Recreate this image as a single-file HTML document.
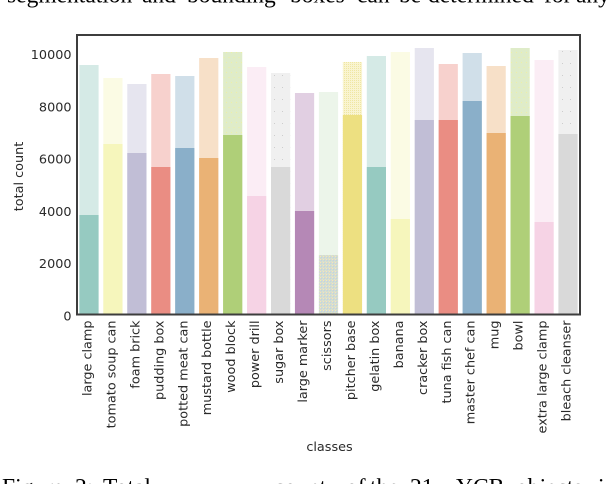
<!DOCTYPE html>
<html>
<head>
<meta charset="utf-8">
<style>
  html, body { margin: 0; padding: 0; background: #ffffff; }
  body { width: 608px; height: 484px; overflow: hidden; }
  svg { display: block; }
  .tick { font-family: "DejaVu Sans", "Liberation Sans", sans-serif; font-size: 12.8px; fill: #2a2a2a; }
  .cap { font-family: "Liberation Serif", serif; font-size: 23.5px; fill: #000; }
</style>
</head>
<body>
<svg width="608" height="484" viewBox="0 0 608 484" xmlns="http://www.w3.org/2000/svg">
  <defs>
    <pattern id="dotG" patternUnits="userSpaceOnUse" width="5" height="10">
      <rect width="5" height="10" fill="#dfecc9"/>
      <rect x="1" y="2" width="1" height="1" fill="#eff0a4"/>
      <rect x="3.5" y="7" width="1" height="1" fill="#eff0a4"/>
    </pattern>
    <pattern id="dotS" patternUnits="userSpaceOnUse" width="8" height="12">
      <rect width="8" height="12" fill="#f0f0f0"/>
      <rect x="2" y="3" width="1" height="1" fill="#cdcdcd"/>
    </pattern>
    <pattern id="dotP" patternUnits="userSpaceOnUse" width="2" height="2">
      <rect width="2" height="2" fill="#f9f4d0"/>
      <rect x="0" y="0" width="1" height="1" fill="#efe6a2"/>
    </pattern>
    <pattern id="dotX" patternUnits="userSpaceOnUse" width="3" height="3">
      <rect width="3" height="3" fill="#d6d6d6"/>
      <rect x="1" y="0" width="1" height="1" fill="#d8eec0"/>
      <rect x="0" y="2" width="1" height="1" fill="#b8e0d8"/>
      <rect x="2" y="1" width="1" height="1" fill="#f0f0b0"/>
    </pattern>
  </defs>

  <!-- top caption fragment -->
  <text class="cap" y="2.5">
    <tspan x="7">segmentation</tspan><tspan x="142">and</tspan><tspan x="187">bounding</tspan><tspan x="290">boxes</tspan><tspan x="357">can</tspan><tspan x="399">be</tspan><tspan x="428">determined</tspan><tspan x="544">for</tspan><tspan x="576">any</tspan>
  </text>

  <!-- bars: light (total) -->
  <g>
    <rect x="79.38" y="65" width="19.2" height="249" fill="#d5eae6"/>
    <rect x="103.33" y="78" width="19.2" height="236" fill="#fbfbe4"/>
    <rect x="127.28" y="84" width="19.2" height="230" fill="#e6e5ef"/>
    <rect x="151.24" y="74" width="19.2" height="240" fill="#f7d1cd"/>
    <rect x="175.19" y="76" width="19.2" height="238" fill="#d0dfe9"/>
    <rect x="199.14" y="58" width="19.2" height="256" fill="#f7e0c8"/>
    <rect x="223.09" y="52" width="19.2" height="262" fill="url(#dotG)"/>
    <rect x="247.04" y="67" width="19.2" height="247" fill="#fbedf5"/>
    <rect x="270.99" y="73" width="19.2" height="241" fill="url(#dotS)"/>
    <rect x="294.95" y="93" width="19.2" height="221" fill="#e1cfe2"/>
    <rect x="318.90" y="92" width="19.2" height="222" fill="#ecf5ea"/>
    <rect x="342.85" y="62" width="19.2" height="252" fill="url(#dotP)"/>
    <rect x="366.80" y="56" width="19.2" height="258" fill="#d5eae6"/>
    <rect x="390.75" y="52" width="19.2" height="262" fill="#fbfbe4"/>
    <rect x="414.71" y="48" width="19.2" height="266" fill="#e6e5ef"/>
    <rect x="438.66" y="64" width="19.2" height="250" fill="#f7d1cd"/>
    <rect x="462.61" y="53" width="19.2" height="261" fill="#d0dfe9"/>
    <rect x="486.56" y="66" width="19.2" height="248" fill="#f7e0c8"/>
    <rect x="510.51" y="48" width="19.2" height="266" fill="url(#dotG)"/>
    <rect x="534.47" y="60" width="19.2" height="254" fill="#fbedf5"/>
    <rect x="558.42" y="50" width="19.2" height="264" fill="url(#dotS)"/>
  </g>
  <!-- bars: dark -->
  <g>
    <rect x="79.38" y="215" width="19.2" height="99" fill="#96cac1"/>
    <rect x="103.33" y="144" width="19.2" height="170" fill="#f6f6bc"/>
    <rect x="127.28" y="153" width="19.2" height="161" fill="#c1bed6"/>
    <rect x="151.24" y="167" width="19.2" height="147" fill="#ea8d83"/>
    <rect x="175.19" y="148" width="19.2" height="166" fill="#8aafc9"/>
    <rect x="199.14" y="158" width="19.2" height="156" fill="#eab275"/>
    <rect x="223.09" y="135" width="19.2" height="179" fill="#afcf78"/>
    <rect x="247.04" y="196" width="19.2" height="118" fill="#f6d3e5"/>
    <rect x="270.99" y="167" width="19.2" height="147" fill="#d9d9d9"/>
    <rect x="294.95" y="211" width="19.2" height="103" fill="#b588b6"/>
    <rect x="318.90" y="255" width="19.2" height="59" fill="url(#dotX)"/>
    <rect x="342.85" y="115" width="19.2" height="199" fill="#ede081"/>
    <rect x="366.80" y="167" width="19.2" height="147" fill="#96cac1"/>
    <rect x="390.75" y="219" width="19.2" height="95" fill="#f6f6bc"/>
    <rect x="414.71" y="120" width="19.2" height="194" fill="#c1bed6"/>
    <rect x="438.66" y="120" width="19.2" height="194" fill="#ea8d83"/>
    <rect x="462.61" y="101" width="19.2" height="213" fill="#8aafc9"/>
    <rect x="486.56" y="133" width="19.2" height="181" fill="#eab275"/>
    <rect x="510.51" y="116" width="19.2" height="198" fill="#afcf78"/>
    <rect x="534.47" y="222" width="19.2" height="92" fill="#f6d3e5"/>
    <rect x="558.42" y="134" width="19.2" height="180" fill="#d9d9d9"/>
  </g>

  <!-- axes frame -->
  <rect x="77" y="35" width="503" height="279.5" fill="none" stroke="#3d3d3d" stroke-width="2"/>

  <!-- y tick labels -->
  <g class="tick" text-anchor="end">
    <text x="71.5" y="320.3">0</text>
    <text x="71.5" y="268.1">2000</text>
    <text x="71.5" y="215.8">4000</text>
    <text x="71.5" y="163.6">6000</text>
    <text x="71.5" y="111.4">8000</text>
    <text x="71.5" y="59.1">10000</text>
  </g>

  <!-- y axis label -->
  <text class="tick" text-anchor="middle" transform="translate(23,176.5) rotate(-90)">total count</text>

  <!-- x tick labels -->
  <g class="tick" text-anchor="end">
    <text transform="translate(91.5,320.5) rotate(-90)">large clamp</text>
    <text transform="translate(115.4,320.5) rotate(-90)">tomato soup can</text>
    <text transform="translate(139.4,320.5) rotate(-90)">foam brick</text>
    <text transform="translate(163.3,320.5) rotate(-90)">pudding box</text>
    <text transform="translate(187.3,320.5) rotate(-90)">potted meat can</text>
    <text transform="translate(211.2,320.5) rotate(-90)">mustard bottle</text>
    <text transform="translate(235.2,320.5) rotate(-90)">wood block</text>
    <text transform="translate(259.1,320.5) rotate(-90)">power drill</text>
    <text transform="translate(283.1,320.5) rotate(-90)">sugar box</text>
    <text transform="translate(307.0,320.5) rotate(-90)">large marker</text>
    <text transform="translate(331.0,320.5) rotate(-90)">scissors</text>
    <text transform="translate(354.9,320.5) rotate(-90)">pitcher base</text>
    <text transform="translate(378.9,320.5) rotate(-90)">gelatin box</text>
    <text transform="translate(402.8,320.5) rotate(-90)">banana</text>
    <text transform="translate(426.8,320.5) rotate(-90)">cracker box</text>
    <text transform="translate(450.8,320.5) rotate(-90)">tuna fish can</text>
    <text transform="translate(474.7,320.5) rotate(-90)">master chef can</text>
    <text transform="translate(498.7,320.5) rotate(-90)">mug</text>
    <text transform="translate(522.6,320.5) rotate(-90)">bowl</text>
    <text transform="translate(546.6,320.5) rotate(-90)">extra large clamp</text>
    <text transform="translate(570.5,320.5) rotate(-90)">bleach cleanser</text>
  </g>

  <!-- x axis label -->
  <text class="tick" x="329.5" y="451" text-anchor="middle">classes</text>

  <!-- bottom caption fragment -->
  <text class="cap" y="494.5">
    <tspan x="2">Figure</tspan><tspan x="75">2:</tspan><tspan x="103">Total</tspan><tspan x="274">count</tspan><tspan x="346">of</tspan><tspan x="370">the</tspan><tspan x="410">21</tspan><tspan x="456">YCB</tspan><tspan x="516">objects</tspan><tspan x="598">in</tspan>
  </text>
</svg>
</body>
</html>
